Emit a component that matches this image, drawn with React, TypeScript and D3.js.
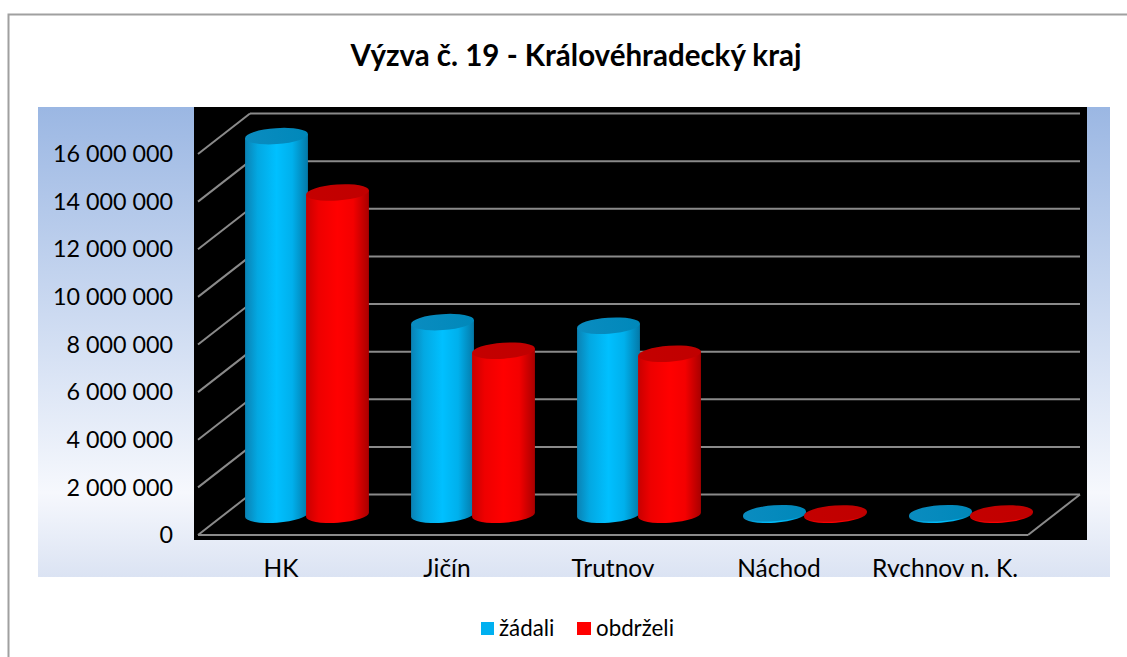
import React from "react";
import * as d3 from "d3";

const title = "Výzva č. 19 - Královéhradecký kraj";
const categories = ["HK", "Jičín", "Trutnov", "Náchod", "Rychnov n. K."];
const seriesNames = ["žádali", "obdrželi"];
const zadali = [15900000, 8090000, 7940000, 60000, 60000];
const obdrzeli = [13530000, 6890000, 6760000, 50000, 50000];
const yTicks = [0, 2000000, 4000000, 6000000, 8000000, 10000000, 12000000, 14000000, 16000000];

const W = 1127;
const H = 657;
const FONT = "Lato, 'Open Sans', sans-serif";

const locale = d3.formatLocale({ decimal: ",", thousands: " ", grouping: [3], currency: ["", ""] });
const fmt = locale.format(",d");

export default function App() {
  const frontLeft = 198;
  const frontRight = 1028;
  const dx = 52;
  const dy = -40.5;
  const yFront = d3.scaleLinear().domain([0, 16000000]).range([535, 154]);
  const yMid = (v: number) => yFront(v) + dy / 2;
  const x = d3.scaleBand().domain(categories).range([frontLeft, frontRight]).padding(0);
  const xs = d3.scaleBand().domain(seriesNames).range([-61, 61]).padding(0);
  const rx = 31.5;
  const ry = 8;
  const theta = -4;
  const th = (theta * Math.PI) / 180;
  const cosT = Math.cos(th);
  const sinT = Math.sin(th);

  const series = [
    { name: seriesNames[0], values: zadali, body: "gBlue", top: "gBlueTop", swatch: "#00b0f0" },
    { name: seriesNames[1], values: obdrzeli, body: "gRed", top: "gRedTop", swatch: "#ff0000" },
  ];

  const cylinders: React.ReactNode[] = [];
  categories.forEach((c, i) => {
    series.forEach((s) => {
      const cx = (x(c) as number) + x.bandwidth() / 2 + dx / 2 + (xs(s.name) as number) + xs.bandwidth() / 2;
      const yb = yMid(0);
      const yt = yMid(s.values[i]);
      const lx = cx - rx * cosT;
      const rxp = cx + rx * cosT;
      const d = `M${lx},${yt - rx * sinT} L${lx},${yb - rx * sinT} A${rx},${ry} ${theta} 0 0 ${rxp},${yb + rx * sinT} L${rxp},${yt + rx * sinT} Z`;
      cylinders.push(
        <g key={c + s.name}>
          <path d={d} fill={`url(#${s.body})`} />
          <ellipse cx={cx} cy={yt} rx={rx} ry={ry} transform={`rotate(${theta},${cx},${yt})`} fill={`url(#${s.top})`} />
        </g>
      );
    });
  });

  const backLeft = frontLeft + dx;
  const backRight = frontRight + dx;

  return (
    <svg width={W} height={H} style={{ position: "absolute", left: 0, top: 0 }} fontFamily={FONT}>
      <defs>
        <linearGradient id="bgGrad" x1="0" y1="0" x2="0" y2="1">
          <stop offset="0" stopColor="#9bb7e3" />
          <stop offset="0.82" stopColor="#f6f8fd" />
          <stop offset="1" stopColor="#dbe3f3" />
        </linearGradient>
        <linearGradient id="gBlue" x1="0" y1="0" x2="1" y2="0">
          <stop offset="0" stopColor="#0a82b4" />
          <stop offset="0.2" stopColor="#03a8e2" />
          <stop offset="0.5" stopColor="#00c0ff" />
          <stop offset="0.75" stopColor="#00b0ec" />
          <stop offset="1" stopColor="#0479a8" />
        </linearGradient>
        <linearGradient id="gBlueTop" x1="0" y1="0" x2="1" y2="0">
          <stop offset="0" stopColor="#0a8cc0" />
          <stop offset="1" stopColor="#0088ba" />
        </linearGradient>
        <linearGradient id="gRed" x1="0" y1="0" x2="1" y2="0">
          <stop offset="0" stopColor="#c80000" />
          <stop offset="0.2" stopColor="#ee0000" />
          <stop offset="0.5" stopColor="#ff0000" />
          <stop offset="0.75" stopColor="#f40000" />
          <stop offset="1" stopColor="#a80000" />
        </linearGradient>
        <linearGradient id="gRedTop" x1="0" y1="0" x2="1" y2="0">
          <stop offset="0" stopColor="#c40000" />
          <stop offset="1" stopColor="#c00000" />
        </linearGradient>
        <clipPath id="plotClip">
          <rect x={38} y={107} width={1072} height={470} />
        </clipPath>
      </defs>
      <rect x={0} y={0} width={W} height={H} fill="#ffffff" />
      <rect x={8.5} y={14.5} width={1300} height={800} fill="#ffffff" stroke="#a0a0a0" strokeWidth={2} />
      <text x={576} y={66} textAnchor="middle" fontSize={29.5} fontWeight="bold" fill="#000">
        {title}
      </text>
      <g clipPath="url(#plotClip)">
        <rect x={38} y={107} width={1072} height={470} fill="url(#bgGrad)" />
        <rect x={194} y={107} width={893} height={433} fill="#000" />
        {yTicks.map((t) => (
          <line key={"b" + t} x1={backLeft} x2={backRight} y1={yFront(t) + dy} y2={yFront(t) + dy} stroke="#8a8a8a" strokeWidth={2} />
        ))}
        {yTicks.map((t) => (
          <line key={"l" + t} x1={frontLeft} x2={backLeft} y1={yFront(t)} y2={yFront(t) + dy} stroke="#8a8a8a" strokeWidth={2} />
        ))}
        <line x1={frontLeft} x2={frontRight} y1={yFront(0)} y2={yFront(0)} stroke="#8a8a8a" strokeWidth={2} />
        <line x1={frontRight} x2={backRight} y1={yFront(0)} y2={yFront(0) + dy} stroke="#8a8a8a" strokeWidth={2} />
        {cylinders}
        {yTicks.map((t) => (
          <text key={"t" + t} x={173} y={yFront(t)} dy="0.35em" textAnchor="end" fontSize={23.3} fill="#000">
            {fmt(t)}
          </text>
        ))}
        {categories.map((c) => (
          <text key={"c" + c} x={(x(c) as number) + x.bandwidth() / 2} y={576.5} textAnchor="middle" fontSize={24.5} fill="#000">
            {c}
          </text>
        ))}
      </g>
      <g>
        <rect x={481} y={622} width={13} height={13} fill={series[0].swatch} />
        <text x={499} y={636} fontSize={22.3} fill="#000">{series[0].name}</text>
        <rect x={577} y={622} width={14} height={13} fill={series[1].swatch} />
        <text x={596} y={636} fontSize={22.3} fill="#000">{series[1].name}</text>
      </g>
    </svg>
  );
}
